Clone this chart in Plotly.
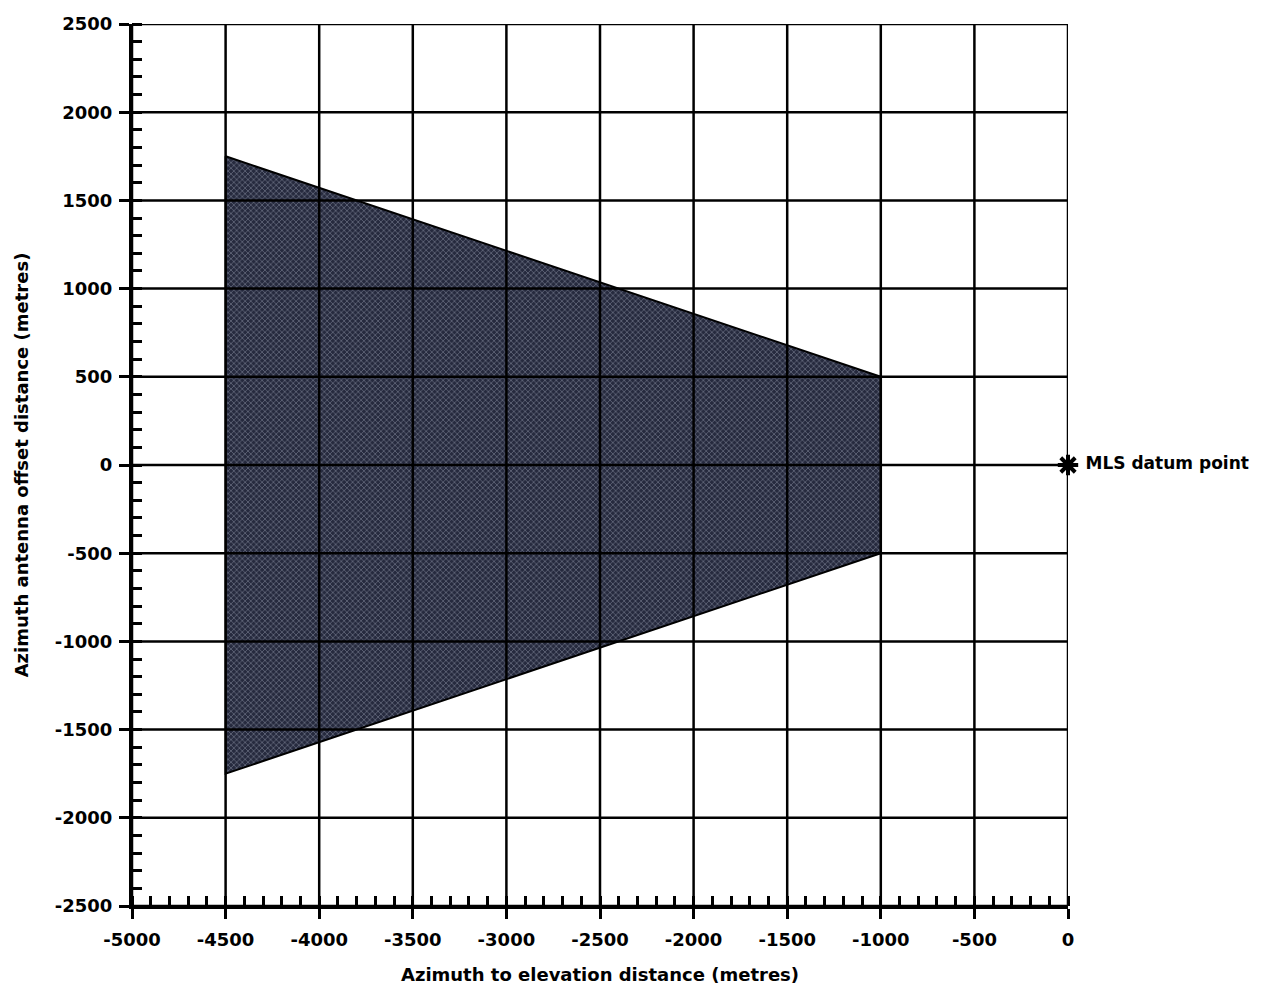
import plotly.graph_objects as go

# Data
region_x = [-4500, -1000, -1000, -4500]
region_y = [1750, 500, -500, -1750]
datum_x = [0]
datum_y = [0]
datum_label = ["MLS datum point"]
x_ticks = [-5000, -4500, -4000, -3500, -3000, -2500, -2000, -1500, -1000, -500, 0]
y_ticks = [-2500, -2000, -1500, -1000, -500, 0, 500, 1000, 1500, 2000, 2500]
x_range = [-5000, 0]
y_range = [-2500, 2500]

FONT = "DejaVu Sans, Liberation Sans, Arial, sans-serif"

fig = go.Figure()

# Shaded region
fig.add_trace(go.Scatter(
    x=region_x + [region_x[0]], y=region_y + [region_y[0]],
    mode="lines", fill="toself",
    fillcolor="#2a2e44",
    fillpattern=dict(shape="x", bgcolor="#262a3e", fgcolor="#a8adc0", size=4, solidity=0.35),
    line=dict(color="black", width=2),
    hoverinfo="skip", showlegend=False,
))

# Grid lines drawn above the shaded region
gx, gy = [], []
for xv in x_ticks:
    gx += [xv, xv, None]
    gy += [y_range[0], y_range[1], None]
for yv in y_ticks:
    gx += [x_range[0], x_range[1], None]
    gy += [yv, yv, None]
fig.add_trace(go.Scatter(x=gx, y=gy, mode="lines", line=dict(color="black", width=2.5),
                         hoverinfo="skip", showlegend=False, cliponaxis=False))

# Datum point
fig.add_trace(go.Scatter(
    x=datum_x, y=datum_y, mode="markers+text",
    marker=dict(symbol="asterisk-open", size=17, color="black", line=dict(color="black", width=4)),
    text=[" " + t for t in datum_label], textposition="middle right",
    textfont=dict(family=FONT, size=17, color="black", weight="bold"),
    cliponaxis=False, showlegend=False,
))

axis_font = dict(family=FONT, size=18, color="black", weight="bold")
title_font = dict(family=FONT, size=18, color="black", weight="bold")

fig.update_xaxes(
    range=x_range, tickvals=x_ticks, ticktext=[str(v) for v in x_ticks],
    showgrid=False, zeroline=False, showline=True, linecolor="black", linewidth=3,
    ticks="outside", ticklen=10, tickwidth=3, tickcolor="black",
    minor=dict(dtick=100, ticks="inside", ticklen=10, tickwidth=2.5, tickcolor="black", showgrid=False),
    tickfont=axis_font, automargin=False, ticklabelstandoff=5,
    title=dict(text="Azimuth to elevation distance (metres)", font=title_font, standoff=20),
)
fig.update_yaxes(
    range=y_range, tickvals=y_ticks, ticktext=[str(v) for v in y_ticks],
    showgrid=False, zeroline=False, showline=True, linecolor="black", linewidth=3,
    ticks="outside", ticklen=10, tickwidth=3, tickcolor="black",
    minor=dict(dtick=100, ticks="inside", ticklen=10, tickwidth=2.5, tickcolor="black", showgrid=False),
    tickfont=axis_font, automargin=False, ticklabelstandoff=3,
    title=dict(text="Azimuth antenna offset distance (metres)", font=title_font, standoff=22),
)

fig.update_layout(
    width=1263, height=980,
    margin=dict(l=124, r=203, t=16, b=82),
    plot_bgcolor="white", paper_bgcolor="white",
    showlegend=False,
)

fig.write_html("out.html")
